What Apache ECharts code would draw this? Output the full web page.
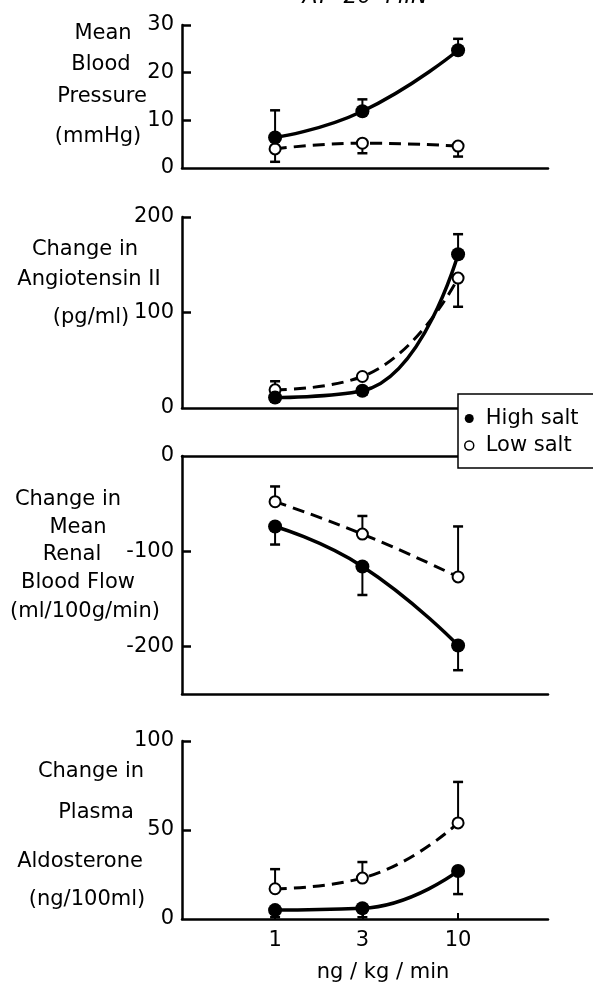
<!DOCTYPE html>
<html>
<head>
<meta charset="utf-8">
<script src="https://cdn.jsdelivr.net/npm/echarts@6/dist/echarts.min.js"></script>
<style>
html,body{margin:0;padding:0;background:#fff;}
#chart{width:593px;height:984px;}
</style>
</head>
<body>
<div id="chart"></div>
<script>
// ---- data ----
const doses = [1, 3, 10];
const doseLabels = ['1', '3', '10'];
const seriesNames = ['High salt', 'Low salt'];

// Mean blood pressure (mmHg)
const bpHigh = [6.4, 11.9, 24.7];
const bpHighErr = [12.1, 14.4, 27.1];
const bpLow = [4.0, 5.2, 4.6];
const bpLowErr = [1.3, 3.1, 2.4];

// Change in angiotensin II (pg/ml)
const angHigh = [11, 18, 161];
const angHighErr = [7, 14, 182];
const angLow = [19, 33, 136];
const angLowErr = [28, null, 106];

// Change in mean renal blood flow (ml/100g/min)
const rbfHigh = [-74, -116, -199];
const rbfHighErr = [-93, -146, -225];
const rbfLow = [-48, -82, -127];
const rbfLowErr = [-32, -63, -74];

// Change in plasma aldosterone (ng/100ml)
const aldHigh = [5, 6, 27];
const aldHighErr = [1, 1, 14];
const aldLow = [17, 23, 54];
const aldLowErr = [28, 32, 77];

const yTicks1 = [0, 10, 20, 30];
const yTicks2 = [0, 100, 200];
const yTicks3 = [0, -100, -200];
const yTicks4 = [0, 50, 100];

const titleText = 'AT  20  MIN';
const xName = 'ng / kg / min';
const panelLabels = [
  ['Mean', 'Blood', 'Pressure', '(mmHg)'],
  ['Change in', 'Angiotensin II', '(pg/ml)'],
  ['Change in', 'Mean', 'Renal', 'Blood Flow', '(ml/100g/min)'],
  ['Change in', 'Plasma', 'Aldosterone', '(ng/100ml)']
];

// ---- layout ----
const FONT = 'DejaVu Sans';
const FS = 21;
const labelPos = [
  [[103, 34], [101, 65], [102, 97], [98, 137]],
  [[85, 250], [89, 280], [91, 318]],
  [[68, 500], [78, 528], [72, 555], [78, 583], [85, 612]],
  [[91, 772], [96, 813], [80, 862], [87, 900]]
];
const grids = [
  {left: 182, right: 45, top: 25, height: 143},
  {left: 182, right: 45, top: 217, height: 191},
  {left: 182, right: 45, top: 456, height: 238},
  {left: 182, right: 45, top: 741, height: 188}
];

function pairs(vals) { return doses.map((d, i) => [d, vals[i]]); }
function errData(vals, errs) {
  return doses.map((d, i) => [d, vals[i], errs[i]]).filter(r => r[2] !== null);
}
function errRender(params, api) {
  const x = api.value(0), y = api.value(1), e = api.value(2);
  const p0 = api.coord([x, y]), p1 = api.coord([x, e]);
  return {
    type: 'group',
    children: [
      {type: 'line', shape: {x1: p0[0], y1: p0[1], x2: p1[0], y2: p1[1]}, style: {stroke: '#000', lineWidth: 2}},
      {type: 'line', shape: {x1: p1[0] - 5, y1: p1[1], x2: p1[0] + 5, y2: p1[1]}, style: {stroke: '#000', lineWidth: 2.5}}
    ]
  };
}

function xAxisCfg(gridIndex, opts) {
  return Object.assign({
    type: 'log', logBase: 10, gridIndex: gridIndex, min: 0.31, max: 31,
    axisLine: {show: true, onZero: false, lineStyle: {color: '#000', width: 2.5}},
    axisTick: {show: false}, axisLabel: {show: false}, splitLine: {show: false}
  }, opts || {});
}
function yAxisCfg(gridIndex, min, max, ticks, tickMarks) {
  return {
    type: 'value', gridIndex: gridIndex, min: min, max: max,
    axisLine: {show: true, onZero: false, lineStyle: {color: '#000', width: 2.5}},
    axisTick: {show: true, inside: true, length: 9, customValues: tickMarks, lineStyle: {color: '#000', width: 2.5}},
    axisLabel: {show: true, customValues: ticks, color: '#000', fontSize: FS, fontFamily: FONT, margin: 8},
    splitLine: {show: false}
  };
}

const xAxes = [
  xAxisCfg(0),
  xAxisCfg(1),
  xAxisCfg(2),
  xAxisCfg(2, {position: 'top'}),
  xAxisCfg(3, {
    axisTick: {show: true, inside: true, length: 6, customValues: doses, lineStyle: {color: '#000', width: 2}},
    axisLabel: {show: true, customValues: doses, formatter: v => doseLabels[doses.indexOf(v)] || '', color: '#000', fontSize: FS, fontFamily: FONT, margin: 11},
    name: xName, nameLocation: 'middle', nameGap: 43,
    nameTextStyle: {color: '#000', fontSize: FS, fontFamily: FONT, padding: [0, 0, 0, 36]}
  })
];
const yAxes = [
  yAxisCfg(0, 0, 30, yTicks1, [10, 20, 30]),
  yAxisCfg(1, 0, 200, yTicks2, [100, 200]),
  yAxisCfg(2, -250, 0, yTicks3, [-100, -200]),
  yAxisCfg(3, 0, 100, yTicks4, [50, 100])
];

const panels = [
  {xi: 0, yi: 0, hi: bpHigh, hiE: bpHighErr, lo: bpLow, loE: bpLowErr},
  {xi: 1, yi: 1, hi: angHigh, hiE: angHighErr, lo: angLow, loE: angLowErr},
  {xi: 2, yi: 2, hi: rbfHigh, hiE: rbfHighErr, lo: rbfLow, loE: rbfLowErr},
  {xi: 4, yi: 3, hi: aldHigh, hiE: aldHighErr, lo: aldLow, loE: aldLowErr}
];

const series = [];
panels.forEach(p => {
  series.push({
    type: 'custom', name: 'err', xAxisIndex: p.xi, yAxisIndex: p.yi, z: 1,
    renderItem: errRender, encode: {x: 0, y: [1, 2]},
    data: errData(p.hi, p.hiE).concat(errData(p.lo, p.loE)), silent: true
  });
  series.push({
    type: 'line', name: seriesNames[1], xAxisIndex: p.xi, yAxisIndex: p.yi, z: 3,
    data: pairs(p.lo), smooth: true,
    symbol: 'emptyCircle', symbolSize: 11,
    itemStyle: {color: '#000', borderColor: '#000', borderWidth: 2.5},
    lineStyle: {color: '#000', width: 3, type: [12, 7]}
  });
  series.push({
    type: 'line', name: seriesNames[0], xAxisIndex: p.xi, yAxisIndex: p.yi, z: 4,
    data: pairs(p.hi), smooth: true,
    symbol: 'circle', symbolSize: 14,
    itemStyle: {color: '#000'},
    lineStyle: {color: '#000', width: 3.5}
  });
});

const graphics = [{
  type: 'text', x: 365, y: -3, z: 20,
  style: {text: titleText, align: 'center', verticalAlign: 'middle', fill: '#000', font: 'italic 22px "' + FONT + '"'}
}];
panelLabels.forEach((lines, pi) => {
  lines.forEach((t, li) => {
    graphics.push({
      type: 'text', x: labelPos[pi][li][0], y: labelPos[pi][li][1], z: 20,
      style: {text: t, align: 'center', verticalAlign: 'middle', fill: '#000', font: FS + 'px "' + FONT + '"'}
    });
  });
});

const option = {
  backgroundColor: '#fff',
  animation: false,
  textStyle: {fontFamily: FONT, color: '#000'},
  grid: grids,
  xAxis: xAxes,
  yAxis: yAxes,
  legend: {
    data: [
      {name: seriesNames[0], icon: 'circle', itemStyle: {color: '#000', borderWidth: 0}},
      {name: seriesNames[1], icon: 'circle', itemStyle: {color: '#fff', borderColor: '#000', borderWidth: 1.5}}
    ],
    orient: 'vertical', left: 458, top: 394,
    itemWidth: 9, itemHeight: 9, itemGap: 6,
    padding: [14, 40, 12, 6],
    backgroundColor: '#fff', borderColor: '#000', borderWidth: 1.5,
    selectedMode: false, z: 10,
    textStyle: {fontSize: FS, color: '#000', fontFamily: FONT, padding: [0, 0, 0, 7]}
  },
  graphic: graphics,
  series: series
};

const chart = echarts.init(document.getElementById('chart'), null, {renderer: 'canvas'});
chart.setOption(option);
</script>
</body>
</html>
